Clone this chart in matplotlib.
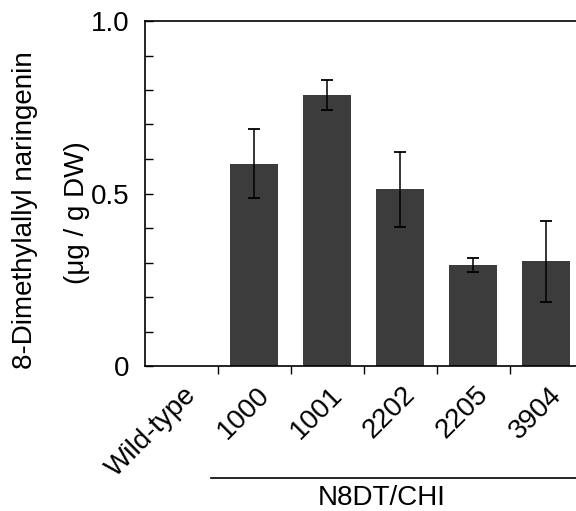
import matplotlib
matplotlib.use("Agg")
import matplotlib.pyplot as plt
import numpy as np

plt.rcParams['font.family'] = ['Liberation Sans', 'DejaVu Sans']

categories = ["Wild-type", "1000", "1001", "2202", "2205", "3904"]
values = [0.0, 0.586, 0.785, 0.512, 0.292, 0.303]
errors = [0.0, 0.100, 0.043, 0.108, 0.020, 0.117]
group_label = "N8DT/CHI"
ylabel1 = "8-Dimethylallyl naringenin"
ylabel2 = "(\u03bcg / g DW)"

FS = 20
W, H = 576, 511
fig = plt.figure(figsize=(W/100, H/100), dpi=100)
left, right, top, bottom = 145, 582.5, 21, 366
ax = fig.add_axes([left/W, 1-bottom/H, (right-left)/W, (bottom-top)/H])

x = np.arange(len(categories))
ax.bar(x, values, width=0.66, color='#3c3c3c', zorder=2)
err_mask = [e > 0 for e in errors]
ax.errorbar(x[err_mask], np.array(values)[err_mask], yerr=np.array(errors)[err_mask],
            fmt='none', ecolor='black', elinewidth=1.1, capsize=4.5, capthick=1.3, zorder=3)

ax.set_xlim(-0.5, 5.5)
ax.set_ylim(0, 1.0)
ax.spines['right'].set_visible(False)
for s in ['left', 'bottom', 'top']:
    ax.spines[s].set_linewidth(1.2)

ax.set_yticks([0, 0.5, 1.0])
ax.set_yticklabels(["0", "0.5", "1.0"], fontsize=FS)
ax.set_yticks(np.arange(0.1, 1.0, 0.1), minor=True)
ax.tick_params(axis='y', which='both', direction='in', length=6, width=1, pad=11)

ax.set_xticks(x[:-1] + 0.5)
ax.set_xticklabels([])
ax.tick_params(axis='x', which='major', direction='out', length=6, width=1)

for i, c in enumerate(categories):
    ax.text(i + 0.03, -0.045, c, rotation=45, ha='right', va='top',
            rotation_mode='anchor', fontsize=FS, transform=ax.get_xaxis_transform())

fig.text(25/W, 1-210/H, ylabel1, rotation=90, ha='center', va='center', fontsize=FS)
fig.text(77/W, 1-213/H, ylabel2, rotation=90, ha='center', va='center', fontsize=FS)

fig.add_artist(plt.Line2D([211/W, 1.0], [1-478/H, 1-478/H], color='black', lw=1.2))
fig.text(382/W, 1-498/H, group_label, ha='center', va='center', fontsize=FS)

fig.savefig("out.png", dpi=100)
